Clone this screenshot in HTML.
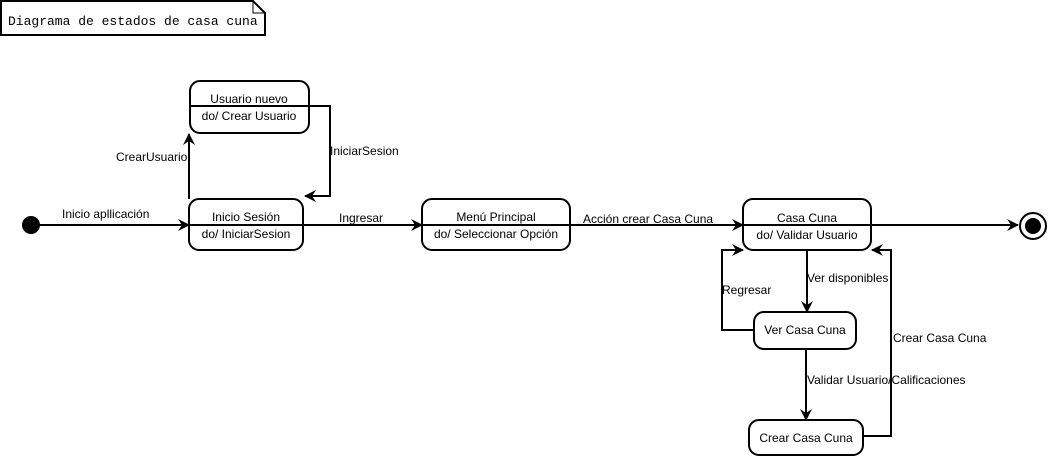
<!DOCTYPE html>
<html><head><meta charset="utf-8"><style>
html,body{margin:0;padding:0;background:#fff;}
svg{display:block;}
text{font-family:"Liberation Sans",sans-serif;font-size:12px;fill:#000;}
.m{font-family:"Liberation Mono",monospace;font-size:13px;}
</style></head><body>
<svg width="1051" height="457" viewBox="0 0 1051 457" xmlns="http://www.w3.org/2000/svg">
<defs>
<marker id="a" markerWidth="12" markerHeight="12" refX="11" refY="6" orient="auto" markerUnits="userSpaceOnUse">
<path d="M0,0 L12,6 L0,12 L4,6 Z" fill="#000"/>
</marker>
</defs>
<g fill="none" stroke="#000" stroke-width="2">
<path d="M1,1 H253 L265,13 V35 H1 Z"/>
<path d="M253,1 V13 H265" stroke-width="1"/>
<rect x="190" y="81" width="119" height="52" rx="10"/>
<rect x="189" y="199" width="114" height="51" rx="10"/>
<rect x="422" y="199" width="148" height="51" rx="10"/>
<rect x="743" y="199" width="128" height="51" rx="10"/>
<rect x="754" y="312" width="102" height="37" rx="10"/>
<rect x="749" y="420" width="114" height="35" rx="10"/>
<line x1="38" y1="225" x2="189" y2="225" marker-end="url(#a)"/>
<line x1="189" y1="199" x2="189" y2="134" marker-end="url(#a)"/>
<path d="M190,106 H330 V196 H305" marker-end="url(#a)"/>
<line x1="189" y1="225" x2="422" y2="225" marker-end="url(#a)"/>
<line x1="422" y1="225" x2="743" y2="225" marker-end="url(#a)"/>
<line x1="743" y1="225" x2="1018" y2="225" marker-end="url(#a)"/>
<line x1="807" y1="250" x2="807" y2="312" marker-end="url(#a)"/>
<line x1="806" y1="349" x2="806" y2="420" marker-end="url(#a)"/>
<path d="M754,330 H722 V250 H743" marker-end="url(#a)"/>
<path d="M863,436 H891 V250 H872" marker-end="url(#a)"/>
<circle cx="1033" cy="226" r="13"/>
</g>
<circle cx="31" cy="225" r="9" fill="#000"/>
<circle cx="1033" cy="226" r="8" fill="#000"/>
<text class="m" x="8" y="25">Diagrama de estados de casa cuna</text>
<g text-anchor="middle">
<text x="249" y="103">Usuario nuevo</text>
<text x="249" y="120">do/ Crear Usuario</text>
<text x="246" y="221">Inicio Sesión</text>
<text x="246" y="238">do/ IniciarSesion</text>
<text x="496" y="221">Menú Principal</text>
<text x="496" y="238">do/ Seleccionar Opción</text>
<text x="807" y="222">Casa Cuna</text>
<text x="807" y="239">do/ Validar Usuario</text>
<text x="805" y="334">Ver Casa Cuna</text>
<text x="806" y="442">Crear Casa Cuna</text>
</g>
<text x="62" y="218">Inicio apllicación</text>
<text x="116" y="161">CrearUsuario</text>
<text x="330" y="155">IniciarSesion</text>
<text x="339" y="222">Ingresar</text>
<text x="583" y="223">Acción crear Casa Cuna</text>
<text x="807" y="282">Ver disponibles</text>
<text x="722" y="294">Regresar</text>
<text x="893" y="342">Crear Casa Cuna</text>
<text x="807" y="384">Validar Usuario/Calificaciones</text>
</svg>
</body></html>
